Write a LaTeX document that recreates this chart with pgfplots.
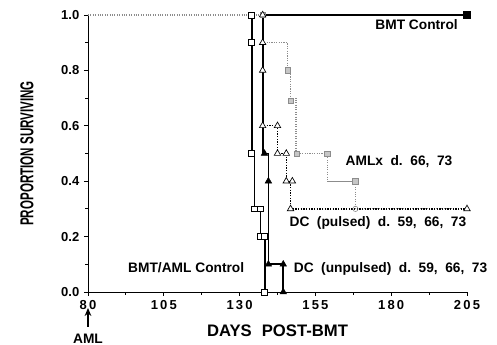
\documentclass[border=0pt]{standalone}
\usepackage{fontspec}
\setmainfont{Liberation Sans}
\usepackage{graphicx}
\usepackage{pgfplots}
\pgfplotsset{compat=1.18}
\usetikzlibrary{arrows.meta}
\definecolor{amlgray}{gray}{0.55}
\newcommand\gap{\hspace{0.55em}}
\begin{document}
\begin{tikzpicture}
\begin{axis}[
 scale only axis, width=284.25pt, height=207.75pt,
 xmin=80, xmax=205, ymin=0, ymax=1,
 axis lines*=left, axis line style={line width=0.7pt},
 xtick={80,105,130,155,180,205},
 xticklabels={8\,0,1\,0\,5,1\,3\,0,1\,5\,5,1\,8\,0,2\,0\,5},
 ytick={0,0.2,0.4,0.6,0.8,1},
 yticklabels={0.0,0.2,0.4,0.6,0.8,1.0},
 minor x tick num=1, minor y tick num=1,
 tick align=outside, major tick length=3pt, minor tick length=2pt,
 tick style={black, line width=0.6pt},
 ticklabel style={font=\fontsize{9.75}{11}\selectfont\bfseries},
 clip=false,
]
% AMLx (gray dotted)
\addplot[amlgray, line width=0.8pt, densely dotted] coordinates {
 (80,1) (137.6,1) (137.6,0.9) (145.8,0.9) (145.8,0.8) (146.8,0.8) (146.8,0.7)
 (148.6,0.7) (148.6,0.5) (158.9,0.5) (158.9,0.4) (168.2,0.4) (168.2,0.3) (205,0.3)};
\addplot[amlgray, line width=0.8pt] coordinates {(158.9,0.4) (168.2,0.4)};
\addplot[only marks, mark=square*, mark size=2pt, mark options={fill=amlgray!50, draw=amlgray}] coordinates {
 (137.6,1) (145.8,0.8) (146.8,0.69) (148.8,0.5) (158.9,0.5) (168.2,0.4)};
\addplot[only marks, mark=o, mark size=2pt, mark options={draw=amlgray}] coordinates {(168.2,0.3)};
% BMT Control
\addplot[black, line width=1.3pt, mark=square*, mark size=2pt, mark indices={2}] coordinates {(138.2,1) (205,1)};
% BMT/AML Control
\addplot[black, line width=1.3pt] coordinates {
 (134,1) (134,0.5) (134.9,0.5) (134.9,0.3) (136.9,0.3) (136.9,0.2) (138.3,0.2) (138.3,0)};
\addplot[only marks, mark=square*, mark size=2.2pt, mark options={fill=white, draw=black, line width=0.6pt}] coordinates {
 (134,1) (134,0.9) (134,0.5) (134.9,0.3) (136.9,0.3) (136.9,0.2) (138.3,0.2) (138.3,0)};
% DC (unpulsed)
\addplot[black, line width=1.3pt] coordinates {
 (137.6,1) (137.6,0.5) (139.5,0.5) (139.5,0.1) (144.4,0.1) (144.4,0)};
\addplot[only marks, mark=triangle*, mark size=2.8pt, mark options={fill=black}] coordinates {
 (138.2,0.5) (139.5,0.4) (139.5,0.1) (144.4,0.1) (144.4,0)};
% DC (pulsed)
\addplot[black, line width=1pt, densely dotted] coordinates {
 (137.6,1) (137.6,0.6) (142.5,0.6) (142.5,0.5) (145.4,0.5) (145.4,0.4) (146.8,0.4) (146.8,0.3) (205,0.3)};
\addplot[only marks, mark=triangle*, mark size=2.8pt, mark options={fill=white, draw=black, line width=0.5pt}] coordinates {
 (137.6,1) (137.6,0.9) (137.6,0.8) (137.6,0.6) (142.5,0.6) (142.5,0.5) (145.4,0.5)
 (145.4,0.4) (147.4,0.4) (146.8,0.3) (205,0.3)};
% labels
\node[anchor=base west, inner sep=0pt, font=\fontsize{10.3}{12}\selectfont\bfseries] at (axis cs:174.7,0.946) {BMT Control};
\node[anchor=base west, inner sep=0pt, font=\fontsize{10.3}{12}\selectfont\bfseries] at (axis cs:164.9,0.458) {AMLx\gap d.\gap 66,\gap 73};
\node[anchor=base west, inner sep=0pt, font=\fontsize{10.3}{12}\selectfont\bfseries] at (axis cs:146.4,0.235) {DC\gap (pulsed)\gap d.\gap 59,\gap 66,\gap 73};
\node[anchor=base east, inner sep=0pt, font=\fontsize{10.3}{12}\selectfont\bfseries] at (axis cs:131.6,0.072) {BMT/AML Control};
\node[anchor=base west, inner sep=0pt, font=\fontsize{10.3}{12}\selectfont\bfseries] at (axis cs:147.8,0.072) {DC\gap (unpulsed)\gap d.\gap 59,\gap 66,\gap 73};
\node[yshift=-29.25pt, font=\fontsize{12.5}{14}\selectfont\bfseries] at (rel axis cs:0.5,0) {DAYS\hspace{0.6em}POST-BMT};
\node[xshift=-45.75pt, rotate=90, font=\fontsize{14}{16}\selectfont\bfseries] at (rel axis cs:0,0.5) {\scalebox{0.62}[1]{PROPORTION SURVIVING}};
\draw[-{Stealth[length=6pt,width=5pt]}, line width=0.8pt] ([yshift=-26pt]axis cs:80,0) -- ([yshift=-12pt]axis cs:80,0);
\node[yshift=-35.25pt, font=\fontsize{10.3}{12}\selectfont\bfseries] at (axis cs:80,0) {AML};
\end{axis}
\pgfresetboundingbox
\path[use as bounding box] (-66pt,-39.75pt) rectangle (306.75pt,219pt);
\end{tikzpicture}
\end{document}
